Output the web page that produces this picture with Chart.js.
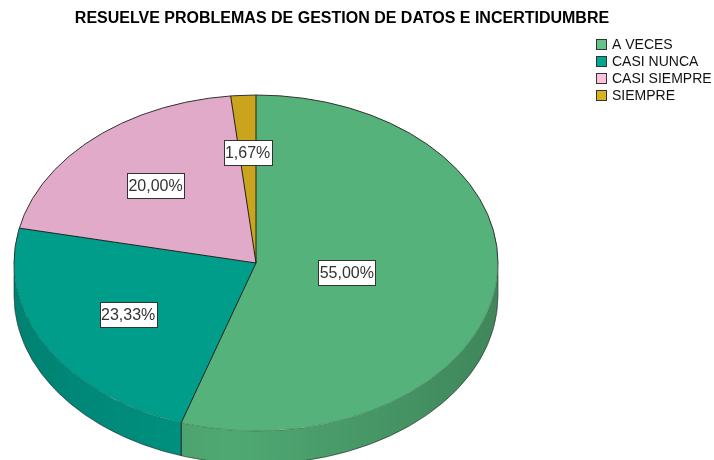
<!DOCTYPE html>
<html>
<head>
<meta charset="utf-8">
<script src="https://cdn.jsdelivr.net/npm/chart.js@4.4.1/dist/chart.umd.min.js"></script>
<style>
  html, body { margin: 0; padding: 0; background: #fff; }
  canvas { display: block; }
</style>
</head>
<body>
<canvas id="pieChart" width="714" height="460"></canvas>
<script>
// datos
const categories = ['A VECES', 'CASI NUNCA', 'CASI SIEMPRE', 'SIEMPRE'];
const percents = [55.00, 23.33, 20.00, 1.67];
const chartTitle = 'RESUELVE PROBLEMAS DE GESTION DE DATOS E INCERTIDUMBRE';

// colores
const topColors = ['#55b27a', '#009e8a', '#e0aac8', '#c9a41c'];
const sideColors = ['#4fa872', '#009482', '#d29fbc', '#bd9a1a'];
const legendColors = ['#62c488', '#00a892', '#fcc2de', '#d9b31f'];

// geometria de la elipse (pie 3D) y posicion de etiquetas
const PIE = { cx: 256, cy: 263, rx: 242, ry: 168, depth: 33 };
const labelRadius = [0.38, 0.61, 0.62, 0.66];
const FONT = "'Liberation Sans', Arial, sans-serif";

const fmt = v => v.toFixed(2).replace('.', ',') + '%';

// aplasta el pie circular de Chart.js en una elipse y dibuja el canto
const pie3d = {
    id: 'pie3d',
    beforeDatasetsDraw(chart) {
        const ctx = chart.ctx;
        const arcs = chart.getDatasetMeta(0).data;
        if (!arcs.length) return;
        const x0 = arcs[0].x, y0 = arcs[0].y, R = arcs[0].outerRadius;
        const sx = PIE.rx / R, sy = PIE.ry / R;
        const dd = PIE.depth / sy;

        ctx.save();
        ctx.translate(PIE.cx, PIE.cy);
        ctx.scale(sx, sy);
        ctx.translate(-x0, -y0);

        // canto frontal (angulos 0..PI)
        arcs.forEach((a, i) => {
            const s = Math.max(a.startAngle, 0);
            const e = Math.min(a.endAngle, Math.PI);
            if (e <= s) return;
            const path = () => {
                ctx.beginPath();
                ctx.arc(x0, y0, R, s, e);
                ctx.lineTo(x0 + R * Math.cos(e), y0 + R * Math.sin(e) + dd);
                ctx.arc(x0, y0 + dd, R, e, s, true);
                ctx.closePath();
            };
            path();
            ctx.fillStyle = sideColors[i];
            ctx.fill();
            const g = ctx.createLinearGradient(x0 - R, 0, x0 + R, 0);
            g.addColorStop(0, 'rgba(0,0,0,0.12)');
            g.addColorStop(0.45, 'rgba(0,0,0,0.0)');
            g.addColorStop(1, 'rgba(0,0,0,0.2)');
            path();
            ctx.fillStyle = g;
            ctx.fill();
        });
    },
    afterDatasetsDraw(chart) {
        const ctx = chart.ctx;
        ctx.restore();

        const arcs = chart.getDatasetMeta(0).data;
        const { cx, cy, rx, ry, depth } = PIE;

        // contornos en coordenadas de pantalla
        ctx.save();
        ctx.lineWidth = 1;
        // borde exterior trasero
        ctx.strokeStyle = '#333';
        ctx.beginPath();
        ctx.ellipse(cx, cy, rx, ry, 0, Math.PI, 2 * Math.PI);
        ctx.stroke();
        // borde inferior del canto y lados
        ctx.strokeStyle = 'rgba(40,40,40,0.6)';
        ctx.beginPath();
        ctx.ellipse(cx, cy + depth, rx, ry, 0, 0, Math.PI);
        ctx.stroke();
        ctx.beginPath();
        ctx.moveTo(cx + rx, cy); ctx.lineTo(cx + rx, cy + depth);
        ctx.moveTo(cx - rx, cy); ctx.lineTo(cx - rx, cy + depth);
        ctx.stroke();
        // borde frontal superior, suave
        ctx.strokeStyle = 'rgba(0,0,0,0.22)';
        ctx.beginPath();
        ctx.ellipse(cx, cy, rx, ry, 0, 0, Math.PI);
        ctx.stroke();
        // lineas radiales y uniones del canto
        ctx.strokeStyle = '#1e1e1e';
        arcs.forEach(a => {
            const t = a.startAngle;
            const px = cx + rx * Math.cos(t), py = cy + ry * Math.sin(t);
            ctx.beginPath();
            ctx.moveTo(cx, cy);
            ctx.lineTo(px, py);
            if (Math.sin(t) > 0) ctx.lineTo(px, py + depth);
            ctx.stroke();
        });
        ctx.restore();

        // etiquetas de porcentaje
        ctx.save();
        ctx.font = '16px ' + FONT;
        ctx.textAlign = 'center';
        ctx.textBaseline = 'middle';
        arcs.forEach((a, i) => {
            const m = (a.startAngle + a.endAngle) / 2;
            const x = cx + labelRadius[i] * rx * Math.cos(m);
            const y = cy + labelRadius[i] * ry * Math.sin(m);
            const txt = fmt(percents[i]);
            const w = Math.round(ctx.measureText(txt).width + 3);
            const h = 25;
            const bx = Math.round(x - w / 2) + 0.5, by = Math.round(y - h / 2) + 0.5;
            ctx.fillStyle = '#fff';
            ctx.fillRect(bx, by, w, h);
            ctx.strokeStyle = '#333';
            ctx.lineWidth = 1;
            ctx.strokeRect(bx, by, w, h);
            ctx.fillStyle = '#333';
            ctx.fillText(txt, x, y + 1);
        });
        ctx.restore();
    },
    afterDraw(chart) {
        // leyenda arriba a la derecha
        const ctx = chart.ctx;
        ctx.save();
        ctx.font = '14px ' + FONT;
        ctx.textBaseline = 'middle';
        ctx.textAlign = 'left';
        categories.forEach((c, i) => {
            const y = 39 + i * 17;
            ctx.fillStyle = legendColors[i];
            ctx.fillRect(596.5, y + 0.5, 10, 10);
            ctx.strokeStyle = '#333';
            ctx.lineWidth = 1;
            ctx.strokeRect(596.5, y + 0.5, 10, 10);
            ctx.fillStyle = '#111';
            ctx.fillText(c, 612, y + 6);
        });
        ctx.restore();
    }
};

new Chart(document.getElementById('pieChart'), {
    type: 'pie',
    data: {
        labels: categories,
        datasets: [{
            data: percents,
            backgroundColor: topColors,
            borderWidth: 0,
            clip: false
        }]
    },
    options: {
        responsive: false,
        animation: false,
        events: [],
        layout: { padding: { right: 30 } },
        plugins: {
            legend: { display: false },
            tooltip: { enabled: false },
            title: {
                display: true,
                text: chartTitle,
                color: '#000',
                font: { family: FONT, size: 16, weight: 'bold' },
                padding: { top: 9, bottom: 0 }
            }
        }
    },
    plugins: [pie3d]
});
</script>
</body>
</html>
